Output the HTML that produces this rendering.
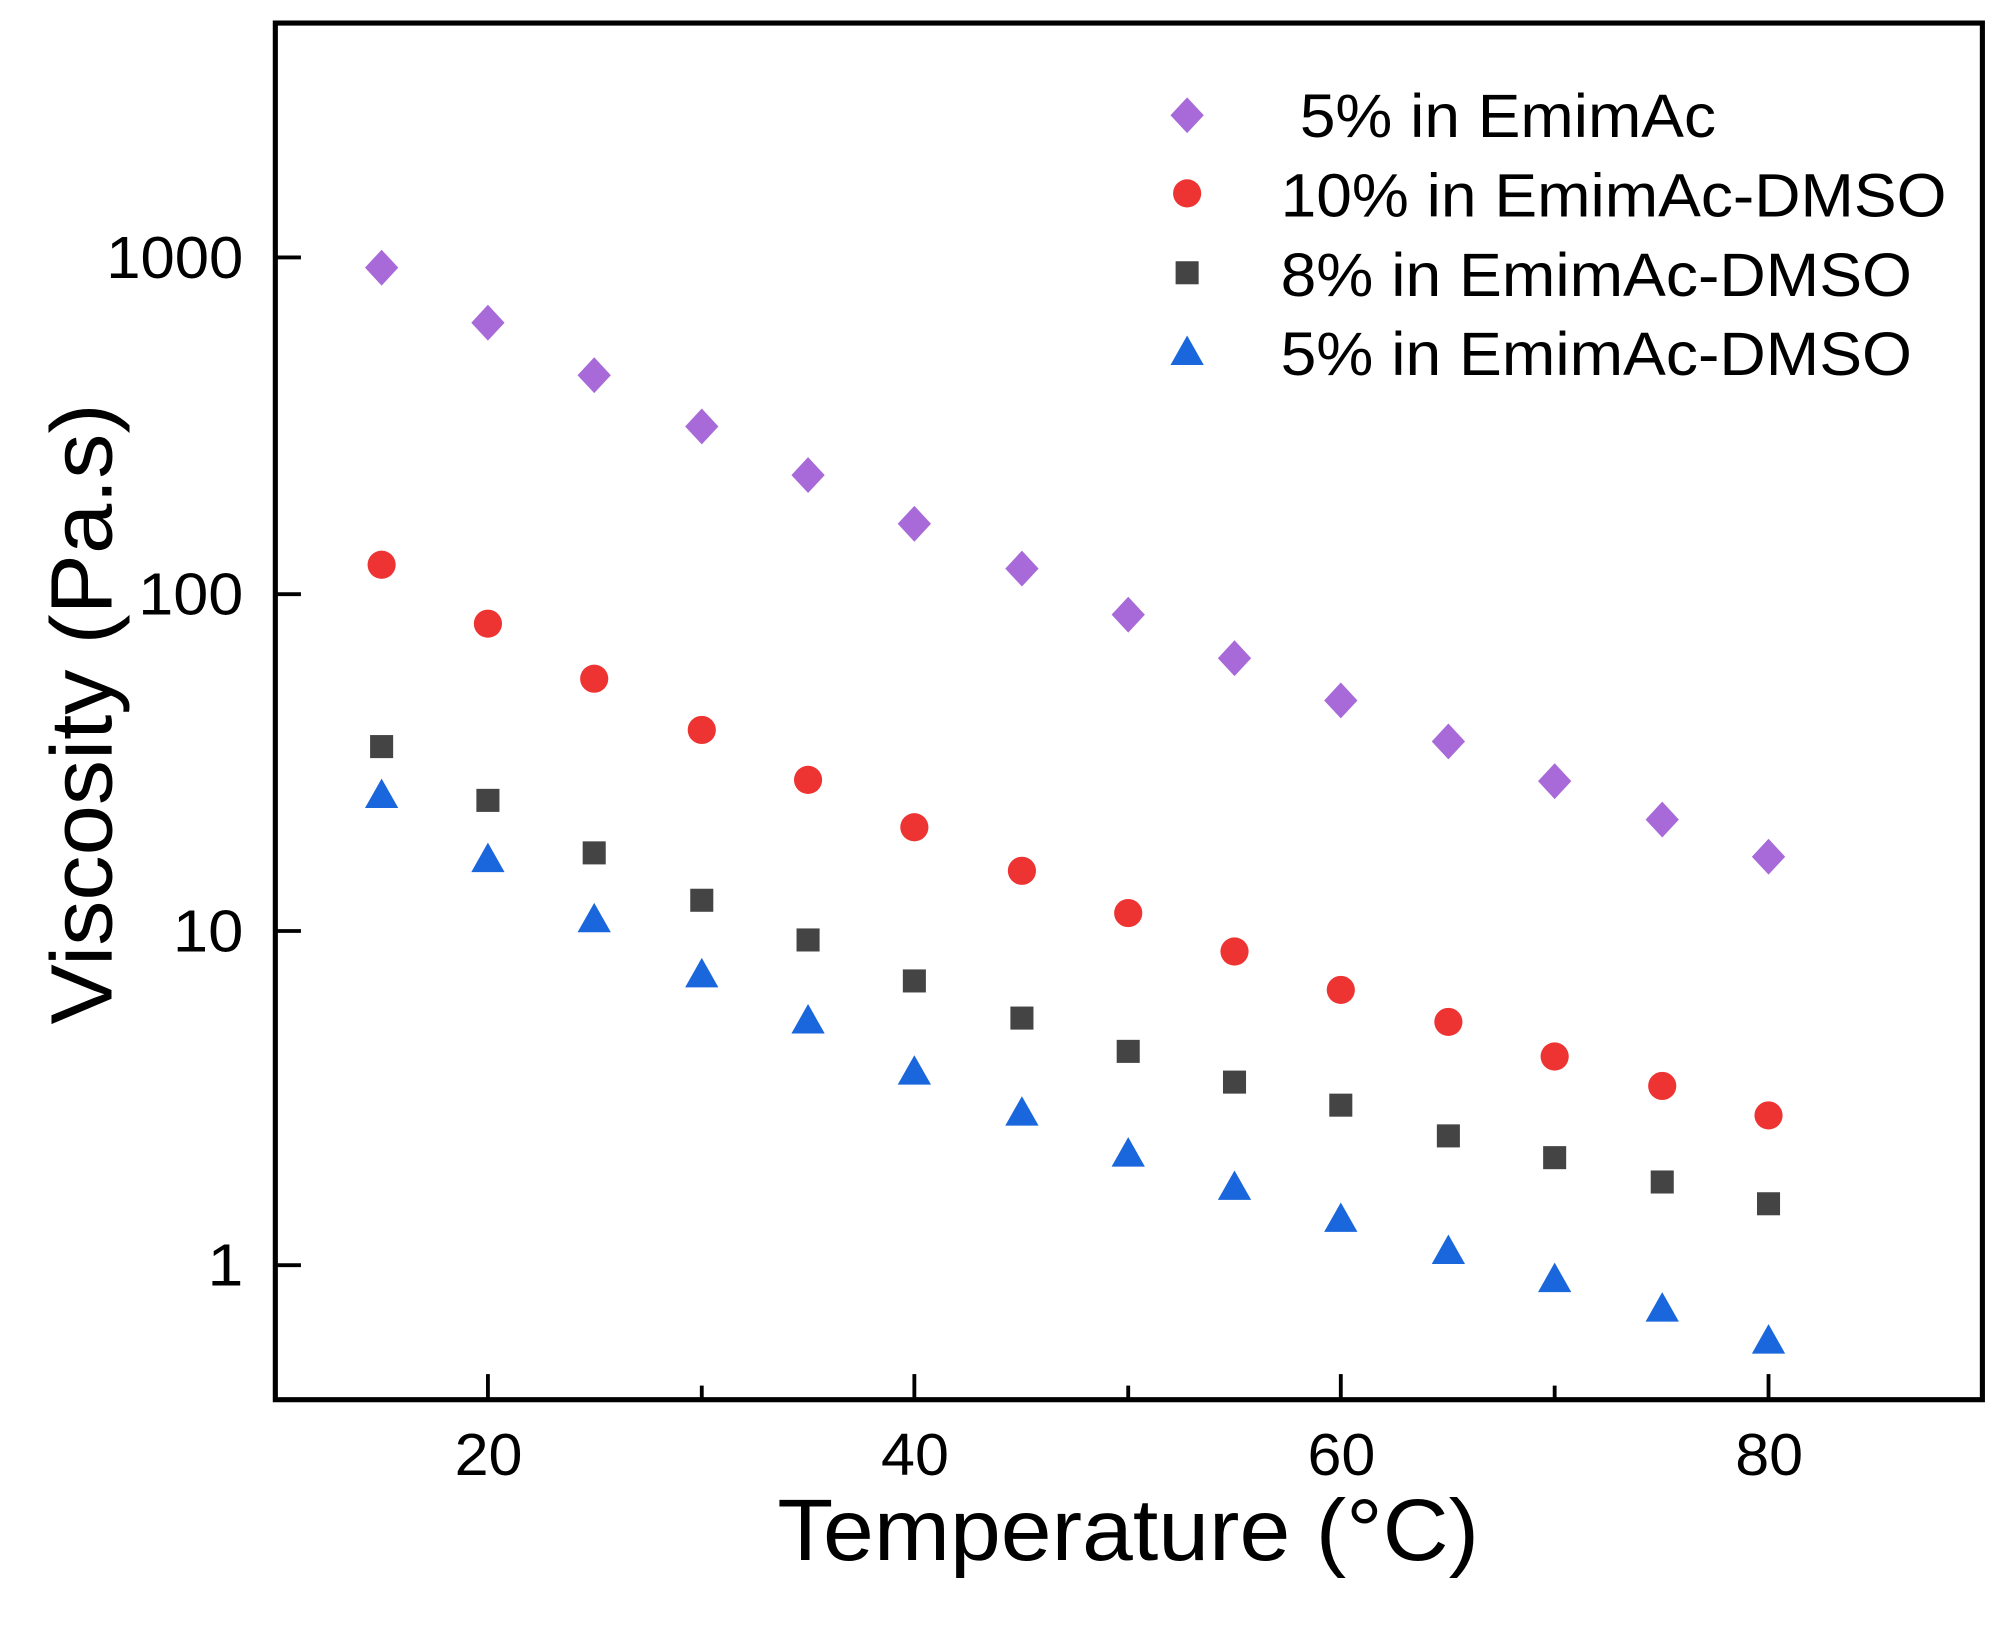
<!DOCTYPE html>
<html><head><meta charset="utf-8"><style>html,body{margin:0;padding:0;background:#fff}svg{display:block}</style></head><body>
<svg width="2008" height="1627" viewBox="0 0 1568 1270.5" preserveAspectRatio="none" xmlns="http://www.w3.org/2000/svg" font-family="Liberation Sans, sans-serif">
<defs>
<polygon id="dm" fill="#a86ad8" points="0,-14 13,0 0,14 -13,0"/>
<circle id="ci" fill="#ee3333" r="11"/>
<rect id="sq" fill="#444" x="-9" y="-9" width="18" height="18"/>
<polygon id="tr" fill="#1a66dd" points="0,-12 13,11 -13,11"/>
</defs>
<rect width="1568" height="1271" fill="#fff"/>
<g stroke="#000" stroke-width="3">
<line x1="381" y1="1093" x2="381" y2="1073"/><line x1="714" y1="1093" x2="714" y2="1073"/><line x1="1047" y1="1093" x2="1047" y2="1073"/><line x1="1381" y1="1093" x2="1381" y2="1073"/>
<line x1="548" y1="1093" x2="548" y2="1082"/><line x1="881" y1="1093" x2="881" y2="1082"/><line x1="1214" y1="1093" x2="1214" y2="1082"/>
<line x1="215" y1="201" x2="235" y2="201"/><line x1="215" y1="464" x2="235" y2="464"/><line x1="215" y1="727" x2="235" y2="727"/><line x1="215" y1="988" x2="235" y2="988"/>
</g>
<rect x="215" y="18" width="1333" height="1075" fill="none" stroke="#000" stroke-width="4"/>
<g font-size="46" fill="#000">
<text x="83" y="217" textLength="107" lengthAdjust="spacingAndGlyphs">1000</text>
<text x="108" y="480" textLength="82" lengthAdjust="spacingAndGlyphs">100</text>
<text x="135" y="743" textLength="55" lengthAdjust="spacingAndGlyphs">10</text>
<text x="162" y="1004" textLength="28" lengthAdjust="spacingAndGlyphs">1</text>
<text x="355" y="1152" textLength="53" lengthAdjust="spacingAndGlyphs">20</text>
<text x="688" y="1152" textLength="53" lengthAdjust="spacingAndGlyphs">40</text>
<text x="1021" y="1152" textLength="53" lengthAdjust="spacingAndGlyphs">60</text>
<text x="1355" y="1152" textLength="53" lengthAdjust="spacingAndGlyphs">80</text>
</g>
<text x="607" y="1218" font-size="68" textLength="548" lengthAdjust="spacingAndGlyphs">Temperature (°C)</text>
<text transform="translate(87,800) rotate(-90)" font-size="68" textLength="485" lengthAdjust="spacingAndGlyphs">Viscosity (Pa.s)</text>
<g>
<use href="#dm" x="298" y="209"/><use href="#dm" x="381" y="252"/><use href="#dm" x="464" y="293"/><use href="#dm" x="548" y="333"/><use href="#dm" x="631" y="371"/><use href="#dm" x="714" y="409"/><use href="#dm" x="798" y="444"/><use href="#dm" x="881" y="480"/><use href="#dm" x="964" y="514"/><use href="#dm" x="1047" y="547"/><use href="#dm" x="1131" y="579"/><use href="#dm" x="1214" y="610"/><use href="#dm" x="1298" y="640"/><use href="#dm" x="1381" y="669"/>
<use href="#ci" x="298" y="441"/><use href="#ci" x="381" y="487"/><use href="#ci" x="464" y="530"/><use href="#ci" x="548" y="570"/><use href="#ci" x="631" y="609"/><use href="#ci" x="714" y="646"/><use href="#ci" x="798" y="680"/><use href="#ci" x="881" y="713"/><use href="#ci" x="964" y="743"/><use href="#ci" x="1047" y="773"/><use href="#ci" x="1131" y="798"/><use href="#ci" x="1214" y="825"/><use href="#ci" x="1298" y="848"/><use href="#ci" x="1381" y="871"/>
<use href="#sq" x="298" y="583"/><use href="#sq" x="381" y="625"/><use href="#sq" x="464" y="666"/><use href="#sq" x="548" y="703"/><use href="#sq" x="631" y="734"/><use href="#sq" x="714" y="766"/><use href="#sq" x="798" y="795"/><use href="#sq" x="881" y="821"/><use href="#sq" x="964" y="845"/><use href="#sq" x="1047" y="863"/><use href="#sq" x="1131" y="887"/><use href="#sq" x="1214" y="904"/><use href="#sq" x="1298" y="923"/><use href="#sq" x="1381" y="940"/>
<use href="#tr" x="298" y="620"/><use href="#tr" x="381" y="670"/><use href="#tr" x="464" y="717"/><use href="#tr" x="548" y="760"/><use href="#tr" x="631" y="796"/><use href="#tr" x="714" y="836"/><use href="#tr" x="798" y="868"/><use href="#tr" x="881" y="900"/><use href="#tr" x="964" y="926"/><use href="#tr" x="1047" y="951"/><use href="#tr" x="1131" y="976"/><use href="#tr" x="1214" y="998"/><use href="#tr" x="1298" y="1021"/><use href="#tr" x="1381" y="1046"/>
<use href="#dm" x="927" y="90"/><use href="#ci" x="927" y="151"/><use href="#sq" x="927" y="213"/><use href="#tr" x="927" y="274"/>
</g>
<g font-size="48" fill="#000">
<text x="1015" y="107" textLength="325" lengthAdjust="spacingAndGlyphs">5% in EmimAc</text>
<text x="1000" y="169" textLength="520" lengthAdjust="spacingAndGlyphs">10% in EmimAc-DMSO</text>
<text x="1000" y="231" textLength="493" lengthAdjust="spacingAndGlyphs">8% in EmimAc-DMSO</text>
<text x="1000" y="293" textLength="493" lengthAdjust="spacingAndGlyphs">5% in EmimAc-DMSO</text>
</g>
</svg>
</body></html>
